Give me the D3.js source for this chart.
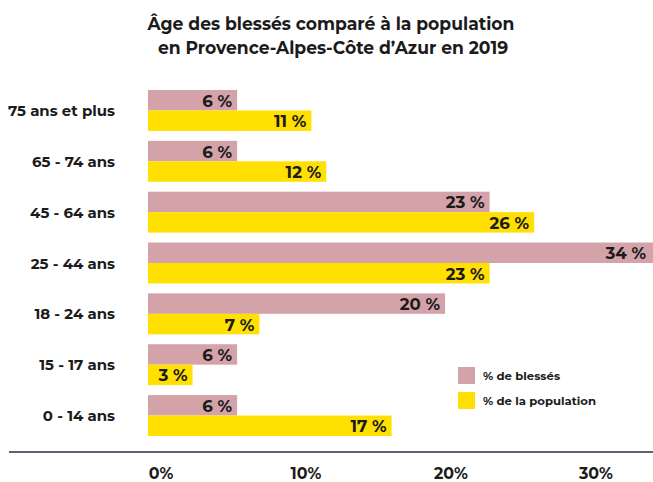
<!DOCTYPE html>
<html><head><meta charset="utf-8">
<script src="https://cdn.jsdelivr.net/npm/d3@7/dist/d3.min.js"></script>
<style>
html,body{margin:0;padding:0;background:#fff;}
svg{display:block;}
text{font-family:"Montserrat","DejaVu Sans",sans-serif;font-weight:700;fill:#1b1b1b;}
</style></head>
<body>
<svg id="chart" width="653" height="482"></svg>
<script>
const titleLines = ["Âge des blessés comparé à la population", "en Provence-Alpes-Côte d\u2019Azur en 2019"];
const categories = ["75 ans et plus", "65 - 74 ans", "45 - 64 ans", "25 - 44 ans", "18 - 24 ans", "15 - 17 ans", "0 - 14 ans"];
const seriesNames = ["% de blessés", "% de la population"];
// bar lengths
const blesses = [6, 6, 23, 34, 20, 6, 6];
const population = [11, 12, 26, 23, 7.5, 3, 16.4];
// printed labels
const blessesLabels = ["6 %", "6 %", "23 %", "34 %", "20 %", "6 %", "6 %"];
const populationLabels = ["11 %", "12 %", "26 %", "23 %", "7 %", "3 %", "17 %"];
const tickValues = [0, 10, 20, 30];
const tickLabels = ["0%", "10%", "20%", "30%"];
const colors = ["#d4a3aa", "#ffe000"];

const svg = d3.select("#chart");

function fitSize(sel, baseSize, targetWidth) {
  sel.attr("font-size", baseSize);
  const w = sel.node().getComputedTextLength();
  return baseSize * targetWidth / w;
}

const x = d3.scaleLinear().domain([0, 34]).range([148, 653]);
const xTick = d3.scaleLinear().domain([0, 30]).range([161, 596]);
const y = d3.scaleBand().domain(categories).range([90, 436]).paddingInner(0.195).paddingOuter(0);
const ySub = d3.scaleBand().domain(seriesNames).range([0, y.bandwidth()]);

// Title
const t1 = svg.append("text").attr("text-anchor", "middle").attr("x", 331).attr("y", 30).text(titleLines[0]);
const titleSize = fitSize(t1, 19, 367);
t1.attr("font-size", titleSize);
svg.append("text").attr("text-anchor", "middle").attr("x", 333).attr("y", 54).attr("font-size", titleSize).text(titleLines[1]);

// Bars
const rows = categories.map((c, i) => ({cat: c, vals: [blesses[i], population[i]], labels: [blessesLabels[i], populationLabels[i]]}));
const g = svg.append("g");
const groups = g.selectAll("g.row").data(rows).join("g").attr("class", "row")
  .attr("transform", d => `translate(0,${y(d.cat)})`);
groups.selectAll("rect").data(d => d.vals.map((v, j) => ({v, s: seriesNames[j], j})))
  .join("rect")
  .attr("x", x(0)).attr("y", d => ySub(d.s))
  .attr("width", d => x(d.v) - x(0)).attr("height", ySub.bandwidth())
  .attr("fill", d => colors[d.j]);

// value labels
const probe = svg.append("text").text("23 %");
const valSize = fitSize(probe, 15, 39);
probe.remove();
groups.selectAll("text.val").data(d => d.vals.map((v, j) => ({v, s: seriesNames[j], j, label: d.labels[j]})))
  .join("text").attr("class", "val")
  .attr("text-anchor", "end")
  .attr("dominant-baseline", "central")
  .attr("font-size", valSize)
  .attr("x", d => Math.min(x(d.v), 651) - 5)
  .attr("y", d => ySub(d.s) + ySub.bandwidth() / 2 + 0.5)
  .text(d => d.label);

// category labels
const probe2 = svg.append("text").text(categories[0]);
const catSize = fitSize(probe2, 14, 107);
probe2.remove();
svg.append("g").selectAll("text").data(categories).join("text")
  .attr("text-anchor", "end").attr("dominant-baseline", "central")
  .attr("font-size", catSize)
  .attr("x", 115).attr("y", d => y(d) + y.bandwidth() / 2 + 0.5)
  .text(d => d);

// axis line
svg.append("line").attr("x1", 9).attr("x2", 653).attr("y1", 452).attr("y2", 452)
  .attr("stroke", "#5b6470").attr("stroke-width", 2);

// tick labels
const probe3 = svg.append("text").text("20%");
const tickSize = fitSize(probe3, 15, 34);
probe3.remove();
svg.append("g").selectAll("text").data(tickValues).join("text")
  .attr("text-anchor", "middle").attr("font-size", tickSize)
  .attr("x", d => xTick(d)).attr("y", 479)
  .text((d, i) => tickLabels[i]);

// legend
const legend = svg.append("g").attr("transform", "translate(458,367)");
const probe4 = svg.append("text").text(seriesNames[1]);
const legSize = fitSize(probe4, 11, 113);
probe4.remove();
const li = legend.selectAll("g").data(seriesNames).join("g")
  .attr("transform", (d, i) => `translate(0,${i * 25})`);
li.append("rect").attr("width", 17).attr("height", 17).attr("fill", (d, i) => colors[i]);
li.append("text").attr("x", 25).attr("y", 9).attr("dominant-baseline", "central")
  .attr("font-size", legSize).text(d => d);
</script>
</body></html>
